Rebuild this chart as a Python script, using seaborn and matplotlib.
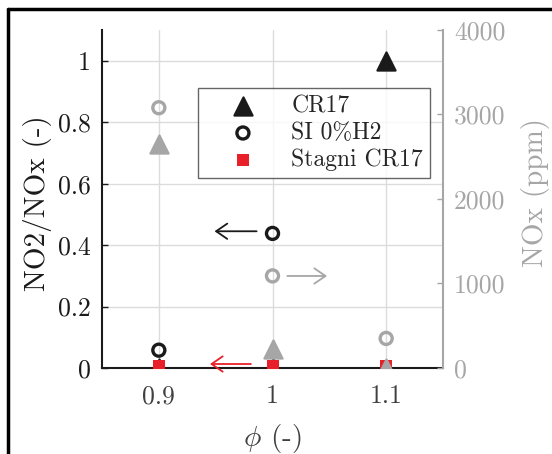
import matplotlib
matplotlib.use("Agg")
import matplotlib.pyplot as plt
import seaborn as sns
from matplotlib.lines import Line2D

# equivalence ratio
phi = [0.9, 1.0, 1.1]

# NO2/NOx ratio (left axis)
cr17_ratio = [0.0, 0.0, 1.0]
si_phi = [0.9, 1.0]
si_ratio = [0.058, 0.438]
stagni_ratio = [0.005, 0.005, 0.005]

# NOx in ppm (right axis)
cr17_nox = [2650, 225, 0]
si_nox = [3080, 1090, 350]

x_ticks = [0.9, 1.0, 1.1]
x_ticklabels = ["0.9", "1", "1.1"]
y_ticks = [0, 0.2, 0.4, 0.6, 0.8, 1.0]
y_ticklabels = ["0", "0.2", "0.4", "0.6", "0.8", "1"]
y2_ticks = [0, 1000, 2000, 3000, 4000]
y2_ticklabels = ["0", "1000", "2000", "3000", "4000"]

dark = "#1a1a1a"
gray = "#a6a6a6"
red = "#e8202a"

sns.set_style("white")
plt.rcParams["font.family"] = ["cmr10", "DejaVu Sans"]
plt.rcParams["mathtext.fontset"] = "cm"
plt.rcParams["axes.formatter.use_mathtext"] = True
plt.rcParams["axes.unicode_minus"] = False

fig = plt.figure(figsize=(5.52, 4.54), dpi=100)
ax = fig.add_axes([102 / 552, 1 - 368 / 454, 341 / 552, 338 / 454])
ax2 = ax.twinx()

sns.scatterplot(x=phi, y=cr17_ratio, ax=ax, marker="^", s=170, color=dark,
                edgecolor=dark, linewidth=1.6, label="CR17", zorder=3)
sns.scatterplot(x=si_phi, y=si_ratio, ax=ax, marker="o", s=75, facecolor="none",
                edgecolor=dark, linewidth=2.4, label="SI 0%H2", zorder=3)
sns.scatterplot(x=phi, y=stagni_ratio, ax=ax, marker="s", s=64, color=red,
                edgecolor=red, linewidth=0, label="Stagni CR17", zorder=4)

sns.scatterplot(x=phi, y=cr17_nox, ax=ax2, marker="^", s=170, color=gray,
                edgecolor=gray, linewidth=1.6, zorder=3)
sns.scatterplot(x=phi, y=si_nox, ax=ax2, marker="o", s=75, facecolor="none",
                edgecolor=gray, linewidth=2.4, zorder=3)

ax.set_xlim(0.85, 1.15)
ax.set_ylim(0, 1.1)
ax2.set_ylim(0, 4000)

ax.set_xticks(x_ticks)
ax.set_xticklabels(x_ticklabels)
ax.set_yticks(y_ticks)
ax.set_yticklabels(y_ticklabels)
ax2.set_yticks(y2_ticks)
ax2.set_yticklabels(y2_ticklabels)

ax.grid(True, color="#dcdcdc", linewidth=1)
ax.set_axisbelow(True)

ax.tick_params(axis="both", direction="in", labelsize=18.5, length=4, width=1)
ax.tick_params(axis="x", length=0, pad=12, labelcolor="#404040")
ax.tick_params(axis="y", pad=8, colors=dark)
ax2.tick_params(axis="y", direction="in", labelsize=18.5, colors=gray, length=4, width=1, pad=8)

for a in (ax, ax2):
    a.spines["top"].set_visible(False)
ax.spines["left"].set_color(dark)
ax.spines["left"].set_linewidth(1.5)
ax.spines["bottom"].set_color(dark)
ax.spines["bottom"].set_linewidth(1.5)
ax.spines["right"].set_visible(False)
ax2.spines["left"].set_visible(False)
ax2.spines["bottom"].set_visible(False)
ax2.spines["right"].set_color(gray)
ax2.spines["right"].set_linewidth(1.5)

ax.set_xlabel(r"$\phi$ (-)", fontsize=21, color="#404040", va="center")
ax.xaxis.set_label_coords(0.5, -0.21)
ax.set_ylabel("NO2/NOx (-)", fontsize=21, color=dark, va="center")
ax.yaxis.set_label_coords(-0.19, 0.487)
ax2.set_ylabel("NOx (ppm)", fontsize=21, color=gray, va="center")
ax2.yaxis.set_label_coords(1.272, 0.52)

# direction arrows (left axis for black and red, right axis for gray)
arrow_style = "->,head_length=0.8,head_width=0.55"
ax.annotate("", xy=(0.949, 0.445), xytext=(0.986, 0.445),
            arrowprops=dict(arrowstyle=arrow_style, lw=1.3, color=dark, shrinkA=0, shrinkB=0))
ax.annotate("", xy=(0.945, 0.013), xytext=(0.981, 0.013),
            arrowprops=dict(arrowstyle=arrow_style, lw=1.3, color=red, shrinkA=0, shrinkB=0))
ax2.annotate("", xy=(1.048, 1089), xytext=(1.013, 1089),
             arrowprops=dict(arrowstyle=arrow_style, lw=1.3, color=gray, shrinkA=0, shrinkB=0))

handles, labels = ax.get_legend_handles_labels()
ax.get_legend().remove()
leg = ax2.legend(handles, labels, loc="upper right", bbox_to_anchor=(0.962, 0.828),
                 borderaxespad=0, fontsize=17, frameon=True, fancybox=False,
                 edgecolor="#404040", handletextpad=0.45, borderpad=0.3,
                 labelspacing=0.2, handlelength=3.2)
leg.get_frame().set_linewidth(1)
leg.set_zorder(10)

# frame of the cropped figure
fig.add_artist(Line2D([8 / 552, 1], [1 - 9 / 454, 1 - 9 / 454], color="k", linewidth=2.5))
fig.add_artist(Line2D([8 / 552, 8 / 552], [0, 1 - 9 / 454], color="k", linewidth=2.5))

fig.savefig("out.png", dpi=100)
